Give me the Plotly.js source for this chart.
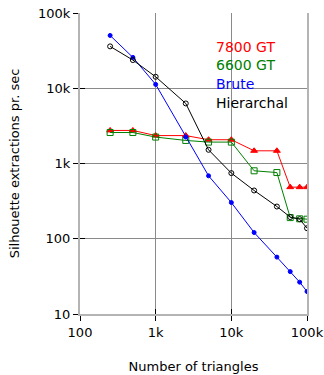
<!DOCTYPE html>
<html>
<head>
<meta charset="utf-8">
<script src="https://cdn.plot.ly/plotly-3.0.1.min.js"></script>
<style>html,body{margin:0;padding:0;background:#fff;}#chart{width:324px;height:375px;}</style>
</head>
<body>
<div id="chart"></div>
<script>
var triangles = [250, 500, 1000, 2500, 5000, 10000, 20000, 40000, 60000, 80000, 100000];
var gt7800 = [2750, 2750, 2350, 2350, 2070, 2070, 1475, 1475, 485, 485, 485];
var gt6600 = [2580, 2580, 2245, 2025, 1925, 1925, 800, 758, 191, 184, 182];
var brute = [50300, 25700, 11250, 2245, 686, 303, 121, 57, 36.6, 26.5, 19.9];
var hierarchal = [36000, 23700, 14200, 6280, 1520, 745, 438, 268, 194, 182, 138];

var seriesNames = ['7800 GT', '6600 GT', 'Brute', 'Hierarchal'];
var seriesColors = ['#ff0000', '#008000', '#0000ff', '#000000'];
var seriesValues = [gt7800, gt6600, brute, hierarchal];
var seriesSymbols = ['triangle-up', 'square-open', 'circle', 'circle-open'];
var seriesSizes = [6, 6, 4, 5];

var xTickVals = [100, 1000, 10000, 100000];
var xTickText = ['100', '1k', '10k', '100k'];
var yTickVals = [10, 100, 1000, 10000, 100000];
var yTickText = ['10', '100', '1k', '10k', '100k'];

var font = 'DejaVu Sans, sans-serif';

var traces = seriesValues.map(function (vals, i) {
  return {
    x: triangles, y: vals, name: seriesNames[i], type: 'scatter', mode: 'lines+markers',
    line: {color: seriesColors[i], width: 1},
    marker: {color: seriesColors[i], symbol: seriesSymbols[i], size: seriesSizes[i], line: {color: seriesColors[i], width: 1}}
  };
});
// invisible trace on overlay axes so inner ticks are drawn
traces.push({x: [100], y: [10], xaxis: 'x2', yaxis: 'y2', mode: 'markers', marker: {opacity: 0}, hoverinfo: 'skip', showlegend: false});

var axBase = {
  type: 'log', tickmode: 'array', showline: true, linecolor: '#b4b4b4', linewidth: 2,
  ticks: 'outside', ticklen: 5, tickcolor: '#000', tickwidth: 1,
  tickfont: {family: font, size: 13, color: '#000'}, zeroline: false, automargin: false
};

var annots = seriesNames.map(function (n, i) {
  return {
    xref: 'paper', yref: 'paper', x: 0.592, xanchor: 'left',
    y: 0.888 - i * 0.0618, yanchor: 'middle', showarrow: false,
    text: n, font: {family: font, size: 14, color: seriesColors[i]}
  };
});

var layout = {
  width: 324, height: 375,
  margin: {l: 80, r: 17, t: 13, b: 61},
  paper_bgcolor: '#fff', plot_bgcolor: '#fff',
  showlegend: false,
  xaxis: Object.assign({}, axBase, {
    range: [2, 5], tickvals: xTickVals, ticktext: xTickText,
    showgrid: true, gridcolor: '#8a8a8a', gridwidth: 1,
    title: {text: 'Number of triangles', font: {family: font, size: 13, color: '#000'}, standoff: 23}
  }),
  yaxis: Object.assign({}, axBase, {
    range: [1, 5], tickvals: yTickVals, ticktext: yTickText, mirror: true,
    showgrid: true, gridcolor: '#8a8a8a', gridwidth: 1,
    title: {text: 'Silhouette extractions pr. sec', font: {family: font, size: 13, color: '#000'}, standoff: 16}
  }),
  xaxis2: {type: 'log', range: [2, 5], overlaying: 'x', tickmode: 'array', tickvals: xTickVals,
    ticks: 'inside', ticklen: 5, tickcolor: '#000', showticklabels: false, showgrid: false, showline: false, zeroline: false},
  yaxis2: {type: 'log', range: [1, 5], overlaying: 'y', tickmode: 'array', tickvals: yTickVals,
    ticks: 'inside', ticklen: 5, tickcolor: '#000', showticklabels: false, showgrid: false, showline: false, zeroline: false},
  shapes: [{type: 'rect', xref: 'paper', yref: 'paper', x0: 0.581, x1: 0.995, y0: 0.673, y1: 0.935,
    fillcolor: '#fff', line: {width: 0}, layer: 'between'}],
  annotations: annots
};

Plotly.newPlot('chart', traces, layout, {staticPlot: true, displayModeBar: false});
</script>
</body>
</html>
